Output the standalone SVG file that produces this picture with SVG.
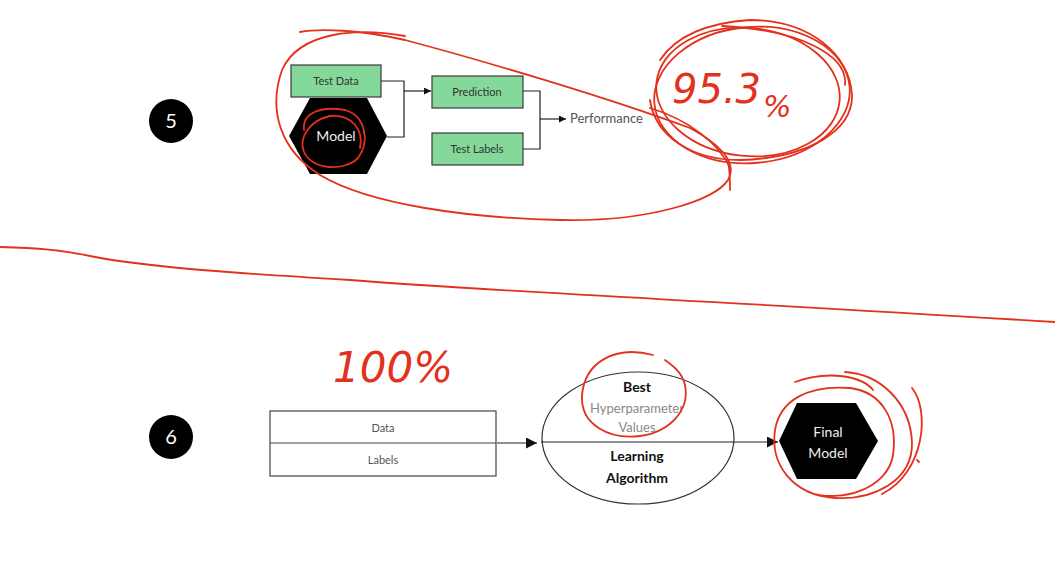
<svg xmlns="http://www.w3.org/2000/svg" width="1055" height="584" viewBox="0 0 1055 584">
<style>
.box{fill:#84d89a;stroke:#3a3a3a;stroke-width:1.2}
.hex{fill:#000}
.wire{fill:none;stroke:#222;stroke-width:1.2}
.lbl{font-family:"Lato","Liberation Sans",sans-serif;font-size:11px;fill:#333;text-anchor:middle}
.gray{font-family:"Lato","Liberation Sans",sans-serif;font-size:11px;fill:#555;text-anchor:middle}
.num{font-family:"Lato","Liberation Sans",sans-serif;font-size:20px;fill:#fff;text-anchor:middle}
.bold{font-family:"Lato","Liberation Sans",sans-serif;font-size:14px;font-weight:bold;fill:#111;text-anchor:middle}
.light{font-family:"Lato","Liberation Sans",sans-serif;font-size:13px;fill:#888;text-anchor:middle}
.white{font-family:"Lato","Liberation Sans",sans-serif;font-size:14px;fill:#eee;text-anchor:middle}
.ink{fill:none;stroke:#e2311d;stroke-width:1.8;stroke-linecap:round;stroke-linejoin:round}
.hand{font-family:"DejaVu Sans",sans-serif;font-weight:200;fill:#e2311d;font-style:italic}
</style>
<defs>
<marker id="ah" viewBox="0 0 10 10" refX="10" refY="5" markerWidth="7" markerHeight="7" markerUnits="userSpaceOnUse" orient="auto">
<path d="M0,0 L10,5 L0,10 z" fill="#111"/>
</marker>
<marker id="ahL" viewBox="0 0 10 10" refX="10" refY="5" markerWidth="11" markerHeight="11" markerUnits="userSpaceOnUse" orient="auto">
<path d="M0,0 L10,5 L0,10 z" fill="#111"/>
</marker>
</defs>
<rect width="1055" height="584" fill="#fff"/>

<g id="step5">
<circle cx="171" cy="121" r="22" fill="#000"/>
<text class="num" x="171" y="128">5</text>
</g>
<g id="step6">
<circle cx="171" cy="437" r="22" fill="#000"/>
<text class="num" x="171" y="444">6</text>
</g>

<g id="connectors">
<path class="wire" d="M381,81 H404 V137 H387"/>
<path class="wire" d="M404,91 H431" marker-end="url(#ah)"/>
<path class="wire" d="M523,91 H540 V149 H523"/>
<path class="wire" d="M540,119 H566" marker-end="url(#ah)"/>
<path class="wire" d="M497,443 H537" marker-end="url(#ahL)"/>
<path class="wire" d="M541,442 H778" marker-end="url(#ahL)"/>
</g>

<g id="test-data">
<rect class="box" x="291" y="65" width="90" height="32"/>
<text class="lbl" x="336" y="85">Test Data</text>
</g>
<g id="model">
<polygon class="hex" points="289,136 310,98 367,98 387,136 367,174 310,174"/>
<text class="white" x="336" y="141">Model</text>
</g>
<g id="prediction">
<rect class="box" x="432" y="76" width="91" height="32"/>
<text class="lbl" x="477" y="96">Prediction</text>
</g>
<g id="test-labels">
<rect class="box" x="432" y="133" width="91" height="32"/>
<text class="lbl" x="477" y="153">Test Labels</text>
</g>
<g id="performance">
<text x="570" y="123" style="font-family:'Lato','Liberation Sans',sans-serif;font-size:13px;fill:#555">Performance</text>
</g>

<g id="data-labels">
<rect x="270" y="411" width="226" height="65" fill="#fff" stroke="#444" stroke-width="1.2"/>
<line x1="270" y1="443" x2="496" y2="443" stroke="#444" stroke-width="1.2"/>
<text class="gray" x="383" y="432">Data</text>
<text class="gray" x="383" y="464">Labels</text>
</g>
<g id="learning-algorithm">
<ellipse cx="638" cy="438" rx="96" ry="66" fill="none" stroke="#333" stroke-width="1.2"/>
<text class="bold" x="637" y="392">Best</text>
<text class="light" x="637" y="413">Hyperparameter</text>
<text class="light" x="637" y="432">Values</text>
<text class="bold" x="637" y="461">Learning</text>
<text class="bold" x="637" y="483">Algorithm</text>
</g>
<g id="final-model">
<polygon class="hex" points="779,441 797,403 856,403 878,441 856,479 797,479"/>
<text class="white" x="828" y="437">Final</text>
<text class="white" x="828" y="458">Model</text>
</g>

<g id="annotations">
<path class="ink" d="M0,247 C40,248 60,250 90,256 C150,268 250,274 350,280 C500,292 700,300 1055,322"/>
<path class="ink" d="M405,36 C360,28 300,30 282,70 C268,110 280,150 320,175 C370,205 470,218 560,220 C650,222 715,200 728,180 C740,160 712,140 690,128 C600,95 480,60 405,40 C360,30 320,28 300,32"/>
<path class="ink" d="M650,108 C690,120 720,145 730,168"/>
<ellipse class="ink" cx="752" cy="95" rx="98" ry="68" transform="rotate(-5 752 95)"/>
<ellipse class="ink" cx="748" cy="92" rx="92" ry="64" transform="rotate(6 748 92)"/>
<path class="ink" d="M722,26 C800,30 848,55 845,85 M660,60 C680,30 720,22 750,20 C810,20 850,55 852,95 C853,130 810,158 740,160 C690,160 655,135 650,100"/>
<path class="ink" d="M728,161 C730,170 730,178 730,190"/>
<text class="hand" x="672" y="103" font-size="40">95.3<tspan dx="2" dy="14" font-size="30">%</tspan></text>

<path class="ink" stroke-width="3" d="M304,130 C302,112 322,106 345,110 C366,116 370,142 358,158 C344,172 312,170 304,152 C298,138 310,120 330,116 C352,114 364,130 360,148"/>

<text class="hand" x="333" y="382" font-size="42">100%</text>

<path class="ink" d="M653,355 C615,345 585,362 582,395 C580,425 610,440 640,436 C670,432 690,410 685,385 C682,372 672,365 665,360"/>

<path class="ink" d="M845,372 C880,374 910,402 912,442 C913,482 872,500 835,498 C792,495 770,464 775,430 C780,400 808,385 850,388 C882,392 898,420 893,455 C888,488 842,504 808,492"/>
<path class="ink" d="M795,382 C828,370 862,376 873,390 M912,388 C930,410 925,472 882,494 M917,460 L919,462"/>
</g>
</svg>
